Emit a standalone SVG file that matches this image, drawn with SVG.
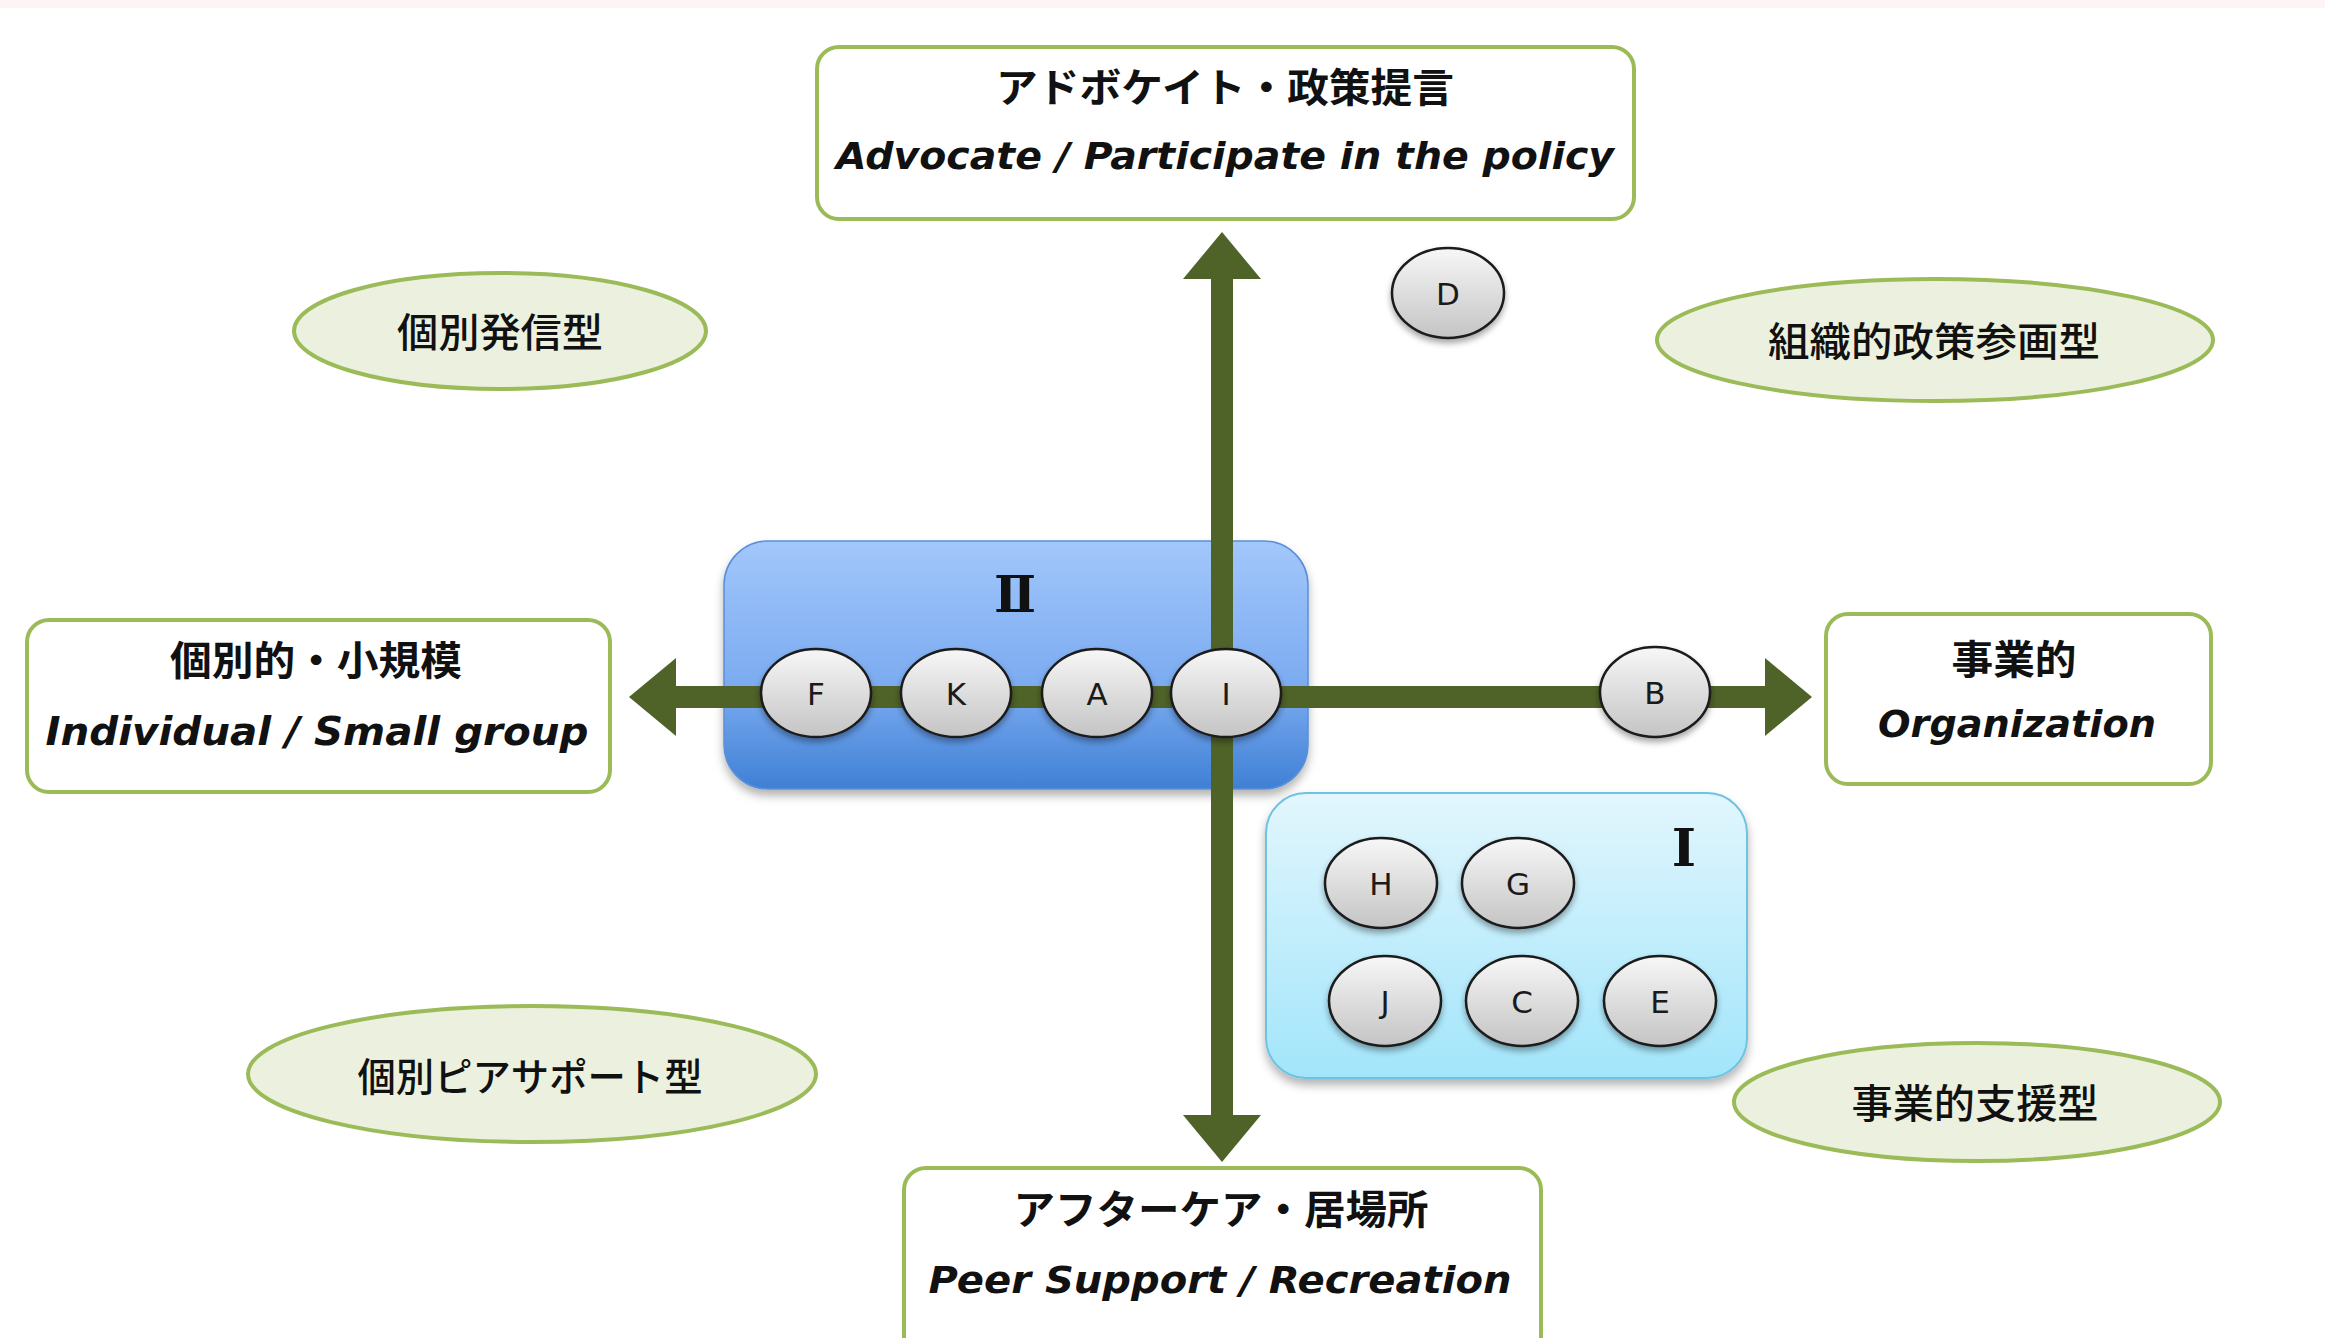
<svg xmlns="http://www.w3.org/2000/svg" width="2325" height="1338" viewBox="0 0 2325 1338">
<style>
.box{fill:#ffffff;stroke:#9bbb59;stroke-width:4}
.oval{fill:#ebf1de;stroke:#9bbb59;stroke-width:4}
.jp{font-family:"Noto Sans CJK JP","Noto Sans CJK SC",sans-serif;font-weight:bold;fill:#111;text-anchor:middle}
.jpo{font-family:"Noto Sans CJK JP","Noto Sans CJK SC",sans-serif;font-weight:500;fill:#111;text-anchor:middle}
.en{font-family:"DejaVu Sans",Verdana,sans-serif;font-weight:bold;font-style:italic;fill:#111;text-anchor:middle}
.node{fill:url(#gNode);stroke:#1a1a1a;stroke-width:2.5;filter:url(#sh)}
.lt{font-family:"DejaVu Sans","Liberation Sans",sans-serif;font-size:31px;fill:#1a1a1a;text-anchor:middle}
.rom{font-family:"DejaVu Serif","Liberation Serif","Noto Sans CJK JP",serif;font-weight:bold;fill:#111;text-anchor:middle}
.axis{stroke:#4f6228;stroke-width:22;fill:none}
</style>
<defs>
<linearGradient id="gNode" x1="0" y1="0" x2="0" y2="1">
<stop offset="0" stop-color="#f7f7f7"/>
<stop offset="1" stop-color="#c4c4c4"/>
</linearGradient>
<linearGradient id="gII" x1="0" y1="0" x2="0" y2="1">
<stop offset="0" stop-color="#a2c7fb"/>
<stop offset="0.6" stop-color="#7aaaf0"/>
<stop offset="1" stop-color="#3f80d5"/>
</linearGradient>
<linearGradient id="gI" x1="0" y1="0" x2="0" y2="1">
<stop offset="0" stop-color="#e2f6fd"/>
<stop offset="1" stop-color="#a2e5fb"/>
</linearGradient>
<filter id="sh" x="-20%" y="-20%" width="140%" height="150%">
<feDropShadow dx="0" dy="4" stdDeviation="3" flood-color="#000" flood-opacity="0.35"/>
</filter>
<filter id="shb" x="-10%" y="-10%" width="120%" height="130%">
<feDropShadow dx="0" dy="6" stdDeviation="5" flood-color="#000" flood-opacity="0.3"/>
</filter>
<marker id="head" markerUnits="userSpaceOnUse" markerWidth="48" markerHeight="80" refX="0" refY="39" orient="auto-start-reverse" viewBox="0 0 48 78">
<path d="M0,0 L47,39 L0,78 Z" fill="#4f6228"/>
</marker>
</defs>
<rect x="0" y="0" width="2325" height="1338" fill="#ffffff"/>
<rect x="0" y="0" width="2325" height="8" fill="#fdf5f5"/>

<g id="group-II">
<rect x="724" y="541" width="584" height="248" rx="44" fill="url(#gII)" stroke="#5a8fd8" stroke-width="1.5" filter="url(#shb)"/>
<text class="rom" x="1015" y="612" font-size="50">Ⅱ</text>
</g>
<g id="group-I">
<rect x="1266" y="793" width="481" height="285" rx="40" fill="url(#gI)" stroke="#6ec2e2" stroke-width="2" filter="url(#shb)"/>
<text class="rom" x="1684" y="866" font-size="52">Ⅰ</text>
</g>

<g id="connectors">
<line class="axis" x1="676" y1="697" x2="1765" y2="697" marker-start="url(#head)" marker-end="url(#head)"/>
<line class="axis" x1="1222" y1="279" x2="1222" y2="1115" marker-start="url(#head)" marker-end="url(#head)"/>
</g>

<g id="box-top">
<rect class="box" x="817" y="47" width="817" height="172" rx="22"/>
<text class="jp" x="1225" y="102" font-size="40" textLength="458" lengthAdjust="spacingAndGlyphs">アドボケイト・政策提言</text>
<text class="en" x="1225" y="169" font-size="38" textLength="778" lengthAdjust="spacingAndGlyphs">Advocate / Participate in the policy</text>
</g>
<g id="box-left">
<rect class="box" x="27" y="620" width="583" height="172" rx="22"/>
<text class="jp" x="316" y="675" font-size="40" textLength="292" lengthAdjust="spacingAndGlyphs">個別的・小規模</text>
<text class="en" x="317" y="745" font-size="39" textLength="543" lengthAdjust="spacingAndGlyphs">Individual  / Small group</text>
</g>
<g id="box-right">
<rect class="box" x="1826" y="614" width="385" height="170" rx="22"/>
<text class="jp" x="2014" y="674" font-size="40" textLength="125" lengthAdjust="spacingAndGlyphs">事業的</text>
<text class="en" x="2017" y="737" font-size="38" textLength="278" lengthAdjust="spacingAndGlyphs">Organization</text>
</g>
<g id="box-bottom">
<rect class="box" x="904" y="1168" width="637" height="200" rx="22"/>
<text class="jp" x="1221" y="1224" font-size="40" textLength="415" lengthAdjust="spacingAndGlyphs">アフターケア・居場所</text>
<text class="en" x="1220" y="1293" font-size="38" textLength="583" lengthAdjust="spacingAndGlyphs">Peer Support  / Recreation</text>
</g>

<g id="oval-kobetsu-hasshin">
<ellipse class="oval" cx="500" cy="331" rx="206" ry="58"/>
<text class="jpo" x="500" y="347" font-size="40" textLength="206" lengthAdjust="spacingAndGlyphs">個別発信型</text>
</g>
<g id="oval-soshiki-seisaku">
<ellipse class="oval" cx="1935" cy="340" rx="278" ry="61"/>
<text class="jpo" x="1934" y="356" font-size="40" textLength="332" lengthAdjust="spacingAndGlyphs">組織的政策参画型</text>
</g>
<g id="oval-kobetsu-peer">
<ellipse class="oval" cx="532" cy="1074" rx="284" ry="68"/>
<text class="jpo" x="530" y="1091" font-size="39" textLength="345" lengthAdjust="spacingAndGlyphs">個別ピアサポート型</text>
</g>
<g id="oval-jigyo-shien">
<ellipse class="oval" cx="1977" cy="1102" rx="243" ry="59"/>
<text class="jpo" x="1975" y="1118" font-size="40" textLength="247" lengthAdjust="spacingAndGlyphs">事業的支援型</text>
</g>

<g id="node-F"><ellipse class="node" cx="816" cy="693" rx="55" ry="44"/><text class="lt" x="816" y="705">F</text></g>
<g id="node-K"><ellipse class="node" cx="956" cy="693" rx="55" ry="44"/><text class="lt" x="956" y="705">K</text></g>
<g id="node-A"><ellipse class="node" cx="1097" cy="693" rx="55" ry="44"/><text class="lt" x="1097" y="705">A</text></g>
<g id="node-I"><ellipse class="node" cx="1226" cy="693" rx="55" ry="44"/><text class="lt" x="1226" y="705">I</text></g>
<g id="node-B"><ellipse class="node" cx="1655" cy="692" rx="55" ry="45"/><text class="lt" x="1655" y="704">B</text></g>
<g id="node-D"><ellipse class="node" cx="1448" cy="293" rx="56" ry="45"/><text class="lt" x="1448" y="305">D</text></g>
<g id="node-H"><ellipse class="node" cx="1381" cy="883" rx="56" ry="45"/><text class="lt" x="1381" y="895">H</text></g>
<g id="node-G"><ellipse class="node" cx="1518" cy="883" rx="56" ry="45"/><text class="lt" x="1518" y="895">G</text></g>
<g id="node-J"><ellipse class="node" cx="1385" cy="1001" rx="56" ry="45"/><text class="lt" x="1385" y="1013">J</text></g>
<g id="node-C"><ellipse class="node" cx="1522" cy="1001" rx="56" ry="45"/><text class="lt" x="1522" y="1013">C</text></g>
<g id="node-E"><ellipse class="node" cx="1660" cy="1001" rx="56" ry="45"/><text class="lt" x="1660" y="1013">E</text></g>
</svg>
